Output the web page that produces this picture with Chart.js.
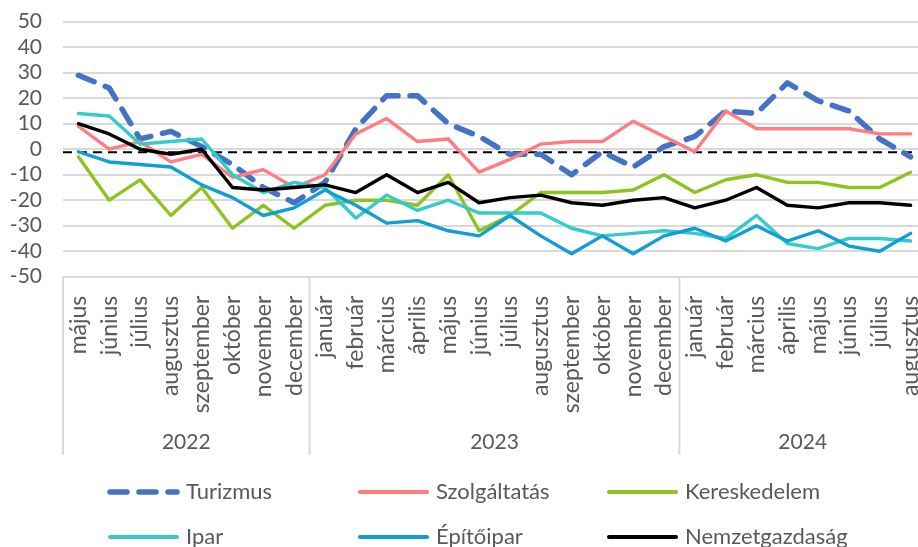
<!DOCTYPE html>
<html>
<head>
<meta charset="utf-8">
<script src="https://cdn.jsdelivr.net/npm/chart.js@4.4.1/dist/chart.umd.min.js"></script>
<style>
  html, body { margin: 0; padding: 0; background: #fff; overflow: hidden; }
  #wrap { width: 926px; height: 547px; }
</style>
</head>
<body>
<div id="wrap"><canvas id="chart" width="926" height="547"></canvas></div>
<script>
// categories: months, grouped by year
const months = [
  'május', 'június', 'július', 'augusztus', 'szeptember', 'október', 'november', 'december',
  'január', 'február', 'március', 'április', 'május', 'június', 'július', 'augusztus',
  'szeptember', 'október', 'november', 'december',
  'január', 'február', 'március', 'április', 'május', 'június', 'július', 'augusztus'
];
const years = ['2022', '2023', '2024'];
const monthsPerYear = [8, 12, 8];

// series values
const turizmus = [29, 24, 4, 7, 1, -6, -15, -21, -13, 8, 21, 21, 10, 5, -2, -2, -10, -1, -7, 1, 5, 15, 14, 26, 19, 15, 4, -3];
const szolgaltatas = [9, 0, 3, -5, -2, -11, -8, -15, -10, 6, 12, 3, 4, -9, -4, 2, 3, 3, 11, 5, -1, 15, 8, 8, 8, 8, 6, 6];
const kereskedelem = [-3, -20, -12, -26, -15, -31, -22, -31, -22, -20, -20, -22, -10, -32, -26, -17, -17, -17, -16, -10, -17, -12, -10, -13, -13, -15, -15, -9];
const ipar = [14, 13, 2, 3, 4, -10, -17, -13, -15, -27, -18, -24, -20, -25, -25, -25, -31, -34, -33, -32, -33, -35, -26, -37, -39, -35, -35, -36];
const epitoipar = [-1, -5, -6, -7, -14, -19, -26, -23, -16, -22, -29, -28, -32, -34, -26, -34, -41, -34, -41, -34, -31, -36, -30, -36, -32, -38, -40, -33];
const nemzetgazdasag = [10, 6, 0, -2, 0, -15, -16, -15, -14, -17, -10, -17, -13, -21, -19, -18, -21, -22, -20, -19, -23, -20, -15, -22, -23, -21, -21, -22];
const referenceLevel = -1.2;

// y axis
const yMin = -50, yMax = 50, yStep = 10;

const textColor = '#595959';
const gridColor = '#d9d9d9';
const fontFamily = 'Lato, sans-serif';
const labelFont = { family: fontFamily, size: 23 };
const numberFont = { family: fontFamily, size: 21 };
const legendSize = 22;

function line(label, data, color, width, order, dash) {
    return {
        label: label,
        data: data,
        borderColor: color,
        backgroundColor: color,
        borderWidth: width,
        borderDash: dash || [],
        borderCapStyle: 'round',
        borderJoinStyle: 'round',
        pointRadius: 0,
        tension: 0,
        fill: false,
        order: order
    };
}

const groupsPlugin = {
    id: 'groups',
    beforeDatasetsDraw(chart) {
        // dashed reference line
        const ctx = chart.ctx, y = chart.scales.y, area = chart.chartArea;
        const py = y.getPixelForValue(referenceLevel);
        ctx.save();
        ctx.strokeStyle = '#000';
        ctx.lineWidth = 2;
        ctx.setLineDash([9, 6]);
        ctx.beginPath();
        ctx.moveTo(area.left, py);
        ctx.lineTo(area.right, py);
        ctx.stroke();
        ctx.restore();
    },
    afterDraw(chart) {
        const ctx = chart.ctx, x = chart.scales.x, area = chart.chartArea;
        const half = (x.getPixelForValue(1) - x.getPixelForValue(0)) / 2;
        ctx.save();
        ctx.strokeStyle = gridColor;
        ctx.lineWidth = 2;
        ctx.fillStyle = textColor;
        ctx.font = numberFont.size + 'px ' + fontFamily;
        ctx.textAlign = 'center';
        ctx.textBaseline = 'middle';
        let start = 0;
        const edges = [x.getPixelForValue(0) - half];
        years.forEach((yr, i) => {
            const end = start + monthsPerYear[i] - 1;
            const left = x.getPixelForValue(start) - half;
            const right = x.getPixelForValue(end) + half;
            edges.push(right);
            ctx.fillText(yr, (left + right) / 2, area.bottom + 166);
            start = end + 1;
        });
        edges.forEach(px => {
            ctx.beginPath();
            ctx.moveTo(px, area.bottom);
            ctx.lineTo(px, area.bottom + 178);
            ctx.stroke();
        });

        // legend in three columns
        const cols = [107, 357, 606];
        const rows = [492, 537];
        ctx.font = legendSize + 'px ' + fontFamily;
        chart.data.datasets.forEach((ds, k) => {
            const lx = cols[k % 3], ly = rows[Math.floor(k / 3)];
            ctx.save();
            ctx.strokeStyle = ds.borderColor;
            ctx.lineWidth = ds.borderDash.length ? ds.borderWidth : 4;
            ctx.lineCap = 'round';
            ctx.setLineDash(ds.borderDash);
            ctx.beginPath();
            ctx.moveTo(lx + 3, ly);
            ctx.lineTo(lx + 70, ly);
            ctx.stroke();
            ctx.restore();
            ctx.textAlign = 'left';
            ctx.fillText(ds.label, lx + 79, ly);
        });
        ctx.restore();
    }
};

const ctx = document.getElementById('chart').getContext('2d');
const chart = new Chart(ctx, {
    type: 'line',
    data: {
        labels: months,
        datasets: [
            line('Turizmus', turizmus, '#4472C4', 5.5, 5, [17, 12]),
            line('Szolgáltatás', szolgaltatas, '#FF7C80', 3.4, 4),
            line('Kereskedelem', kereskedelem, '#8FC31F', 3.4, 3),
            line('Ipar', ipar, '#33CCCC', 3.4, 2),
            line('Építőipar', epitoipar, '#109ED3', 3.4, 1),
            line('Nemzetgazdaság', nemzetgazdasag, '#000000', 3.4, 0)
        ]
    },
    options: {
        responsive: false,
        animation: false,
        devicePixelRatio: 1,
        layout: { padding: { top: 21.7, right: 0, bottom: 0, left: 0 } },
        plugins: {
            legend: { display: false },
            tooltip: { enabled: false }
        },
        scales: {
            x: {
                offset: true,
                grid: { display: false, drawTicks: false },
                border: { display: false },
                ticks: {
                    autoSkip: false,
                    maxRotation: 90,
                    minRotation: 90,
                    padding: 19,
                    color: textColor,
                    font: labelFont
                },
                afterFit(scale) {
                    scale.height = 270.3;
                    scale.paddingLeft = 0;
                    scale.paddingRight = 0;
                }
            },
            y: {
                min: yMin,
                max: yMax,
                ticks: {
                    autoSkip: false,
                    stepSize: yStep,
                    padding: 21,
                    color: textColor,
                    font: numberFont
                },
                grid: { color: gridColor, lineWidth: 2, drawTicks: false },
                border: { display: false },
                afterFit(scale) {
                    scale.width = 63;
                    scale.paddingTop = 0;
                    scale.paddingBottom = 0;
                }
            }
        }
    },
    plugins: [groupsPlugin]
});
</script>
</body>
</html>
